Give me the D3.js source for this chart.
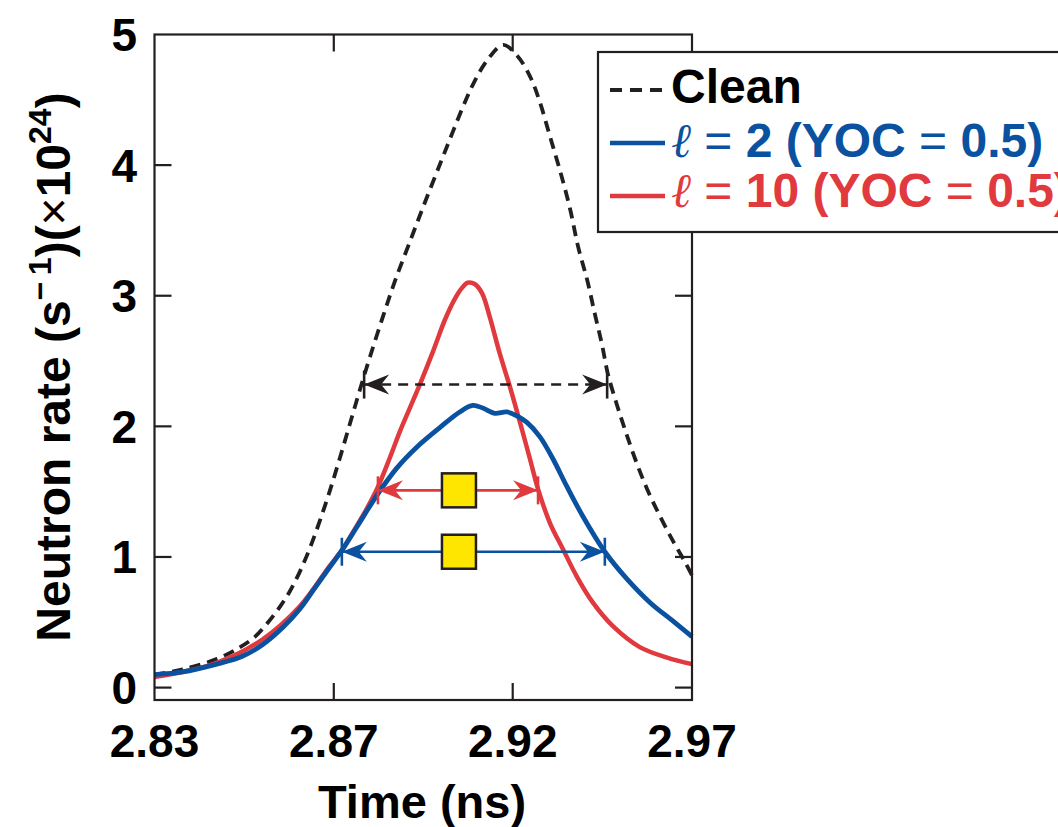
<!DOCTYPE html>
<html><head><meta charset="utf-8">
<script src="https://cdn.jsdelivr.net/npm/d3@7"></script>
<style>body{margin:0;background:#fff}svg{display:block}</style>
</head><body>
<script>
// ---------- data ----------
const tickValuesX = [2.83, 2.8767, 2.9233, 2.97];
const tickLabelsX = ["2.83", "2.87", "2.92", "2.97"];
const tickValuesY = [0, 1, 2, 3, 4, 5];

const cleanTime = [2.8300,2.8374,2.8463,2.8523,2.8562,2.8596,2.8627,2.8653,2.8679,2.8705,2.8731,2.8757,2.8783,2.8809,2.8835,2.8861,2.8895,2.8926,2.8966,2.9005,2.9044,2.9075,2.9104,2.9130,2.9166,2.9208,2.9244,2.9278,2.9304,2.9330,2.9356,2.9382,2.9403,2.9427,2.9447,2.9466,2.9481,2.9505,2.9526,2.9552,2.9583,2.9617,2.9651,2.9682,2.9700];
const cleanRate = [0.10,0.14,0.22,0.31,0.39,0.50,0.62,0.74,0.89,1.07,1.28,1.51,1.76,2.02,2.28,2.53,2.84,3.11,3.42,3.72,4.01,4.24,4.45,4.62,4.80,4.92,4.84,4.68,4.48,4.22,3.96,3.67,3.38,3.12,2.86,2.62,2.40,2.16,1.97,1.75,1.52,1.31,1.12,0.96,0.86];

const l2Time = [2.8300,2.8373,2.8462,2.8529,2.8582,2.8634,2.8678,2.8717,2.8751,2.8788,2.8827,2.8881,2.8931,2.8983,2.9043,2.9095,2.9129,2.9155,2.9186,2.9218,2.9244,2.9270,2.9304,2.9338,2.9374,2.9416,2.9473,2.9531,2.9591,2.9650,2.9700];
const l2Rate = [0.10,0.12,0.18,0.24,0.33,0.46,0.60,0.76,0.90,1.05,1.23,1.48,1.68,1.84,1.99,2.11,2.16,2.14,2.10,2.11,2.08,2.03,1.92,1.75,1.54,1.31,1.04,0.83,0.65,0.51,0.39];

const l10Time = [2.8300,2.8462,2.8582,2.8678,2.8756,2.8790,2.8821,2.8853,2.8881,2.8913,2.8939,2.8965,2.8991,2.9025,2.9057,2.9083,2.9101,2.9116,2.9134,2.9153,2.9173,2.9199,2.9226,2.9252,2.9278,2.9299,2.9330,2.9364,2.9400,2.9442,2.9494,2.9564,2.9635,2.9700];
const l10Rate = [0.08,0.19,0.37,0.62,0.93,1.06,1.21,1.37,1.53,1.76,1.96,2.14,2.32,2.57,2.82,2.98,3.06,3.10,3.09,3.02,2.84,2.56,2.30,2.03,1.75,1.52,1.26,1.06,0.85,0.65,0.47,0.31,0.23,0.18];

// FWHM markers: [start time, end time, level]
const fwhmClean = [2.8846, 2.9479, 2.32];
const fwhmL10 = [2.8882, 2.9299, 1.51];
const fwhmL2 = [2.8788, 2.9473, 1.04];
const squareTime = 2.9093;

const legendLabels = ["Clean", "= 2 (YOC = 0.5)", "= 10 (YOC = 0.5)"];

// ---------- setup ----------
const W = 1058, H = 827;
const FONT = "'Liberation Sans', Arial, Helvetica, sans-serif";
const BLACK = "#231f20", BLUE = "#0a52a0", RED = "#e0393e", YELLOW = "#ffe600";

const svg = d3.select("body").append("svg").attr("width", W).attr("height", H);

const x = d3.scaleLinear().domain([2.83, 2.97]).range([154.5, 692]);
const y = d3.scaleLinear().domain([-0.095, 5]).range([700, 34.5]);
const TL = 17;

// curves
const line = d3.line().x(d => x(d[0])).y(d => y(d[1])).curve(d3.curveCatmullRom.alpha(0.5));
const zip = (a, b) => a.map((v, i) => [v, b[i]]);

svg.append("path").datum(zip(cleanTime, cleanRate)).attr("d", line)
  .attr("fill", "none").attr("stroke", BLACK).attr("stroke-width", 3.8).attr("stroke-dasharray", "11,7");
svg.append("path").datum(zip(l10Time, l10Rate)).attr("d", line)
  .attr("fill", "none").attr("stroke", RED).attr("stroke-width", 4.5);
svg.append("path").datum(zip(l2Time, l2Rate)).attr("d", line)
  .attr("fill", "none").attr("stroke", BLUE).attr("stroke-width", 4.8);

// FWHM arrows
function arrow(spec, color, dashed) {
  const [t0, t1, v] = spec;
  const x0 = x(t0), x1 = x(t1), yy = y(v);
  const g = svg.append("g");
  g.append("line").attr("x1", x0).attr("x2", x1).attr("y1", yy).attr("y2", yy)
    .attr("stroke", color).attr("stroke-width", 2.6).attr("stroke-dasharray", dashed ? "10,7" : null);
  const head = (tx, d) => `M${tx},${yy} L${tx + d * 25},${yy - 10} L${tx + d * 17},${yy} L${tx + d * 25},${yy + 10} Z`;
  g.append("path").attr("d", head(x0, 1)).attr("fill", color);
  g.append("path").attr("d", head(x1, -1)).attr("fill", color);
  [x0, x1].forEach(xx => g.append("line").attr("x1", xx).attr("x2", xx)
    .attr("y1", yy - 14).attr("y2", yy + 14).attr("stroke", color).attr("stroke-width", 2.6));
}
arrow(fwhmClean, BLACK, true);
arrow(fwhmL10, RED, false);
arrow(fwhmL2, BLUE, false);
[fwhmL10, fwhmL2].forEach(s => {
  svg.append("rect").attr("x", x(squareTime) - 17).attr("y", y(s[2]) - 17)
    .attr("width", 34).attr("height", 34).attr("fill", YELLOW)
    .attr("stroke", BLACK).attr("stroke-width", 2.5);
});

// frame
const fx0 = x.range()[0], fx1 = x.range()[1], fy0 = y.range()[1], fy1 = y.range()[0];
svg.append("rect").attr("x", fx0).attr("y", fy0).attr("width", fx1 - fx0).attr("height", fy1 - fy0)
  .attr("fill", "none").attr("stroke", BLACK).attr("stroke-width", 2.2);

// ticks
tickValuesX.slice(1, -1).forEach(t => {
  svg.append("line").attr("x1", x(t)).attr("x2", x(t)).attr("y1", fy0).attr("y2", fy0 + TL).attr("stroke", BLACK).attr("stroke-width", 2.2);
  svg.append("line").attr("x1", x(t)).attr("x2", x(t)).attr("y1", fy1).attr("y2", fy1 - TL).attr("stroke", BLACK).attr("stroke-width", 2.2);
});
tickValuesY.slice(0, -1).forEach(v => {
  svg.append("line").attr("x1", fx0).attr("x2", fx0 + TL).attr("y1", y(v)).attr("y2", y(v)).attr("stroke", BLACK).attr("stroke-width", 2.2);
  svg.append("line").attr("x1", fx1).attr("x2", fx1 - TL).attr("y1", y(v)).attr("y2", y(v)).attr("stroke", BLACK).attr("stroke-width", 2.2);
});

// tick labels
svg.append("g").selectAll("text").data(tickValuesX).join("text")
  .attr("x", d => x(d)).attr("y", 757).attr("text-anchor", "middle")
  .attr("font-family", FONT).attr("font-weight", "bold").attr("font-size", 46).attr("fill", "#000")
  .text((d, i) => tickLabelsX[i]);
svg.append("g").selectAll("text").data(tickValuesY).join("text")
  .attr("x", 137).attr("y", d => y(d) + 16.5).attr("text-anchor", "end")
  .attr("font-family", FONT).attr("font-weight", "bold").attr("font-size", 46).attr("fill", "#000")
  .text(d => d);

// axis titles
svg.append("text").attr("x", 422).attr("y", 818).attr("text-anchor", "middle")
  .attr("font-family", FONT).attr("font-weight", "bold").attr("font-size", 47).attr("fill", "#000")
  .text("Time (ns)");

const yt = svg.append("text").attr("transform", "translate(70,367) rotate(-90)")
  .attr("text-anchor", "middle").attr("font-family", FONT).attr("font-weight", "bold")
  .attr("font-size", 48).attr("fill", "#000");
yt.append("tspan").text("Neutron rate (s");
yt.append("tspan").attr("dy", -19).attr("font-size", 32).text("\u2212\u20091");
yt.append("tspan").attr("dy", 19).text(")(");
yt.append("tspan").attr("font-weight", "normal").text("\u00d7");
yt.append("tspan").text("10");
yt.append("tspan").attr("dy", -19).attr("font-size", 32).text("24");
yt.append("tspan").attr("dy", 19).text(")");

// legend
svg.append("rect").attr("x", 598).attr("y", 52).attr("width", 520).attr("height", 180)
  .attr("fill", "#fff").attr("stroke", BLACK).attr("stroke-width", 2.2);
const legRows = [
  {label: legendLabels[0], color: BLACK, textColor: "#000", dash: "12,8", ly: 90, by: 103, ell: false},
  {label: legendLabels[1], color: BLUE, textColor: BLUE, dash: null, ly: 143, by: 156.5, ell: true},
  {label: legendLabels[2], color: RED, textColor: RED, dash: null, ly: 196, by: 206.5, ell: true}
];
legRows.forEach(r => {
  svg.append("line").attr("x1", 610).attr("x2", 665).attr("y1", r.ly).attr("y2", r.ly)
    .attr("stroke", r.color).attr("stroke-width", r.dash ? 4 : 4.4).attr("stroke-dasharray", r.dash);
  const t = svg.append("text").attr("x", 671).attr("y", r.by).attr("font-family", FONT)
    .attr("font-weight", "bold").attr("font-size", 48).attr("fill", r.textColor);
  if (r.ell) {
    t.append("tspan").attr("font-family", "'DejaVu Serif', serif").attr("font-style", "italic")
      .attr("font-weight", "normal").text("\u2113");
    const parts = r.label.split("=");
    t.append("tspan").attr("font-weight", "normal").text(" = ");
    t.append("tspan").text(parts[1].trim() + " ");
    t.append("tspan").attr("font-weight", "normal").text("= ");
    t.append("tspan").text(parts[2].trim());
  } else {
    t.text(r.label);
  }
});
</script>
</body></html>
